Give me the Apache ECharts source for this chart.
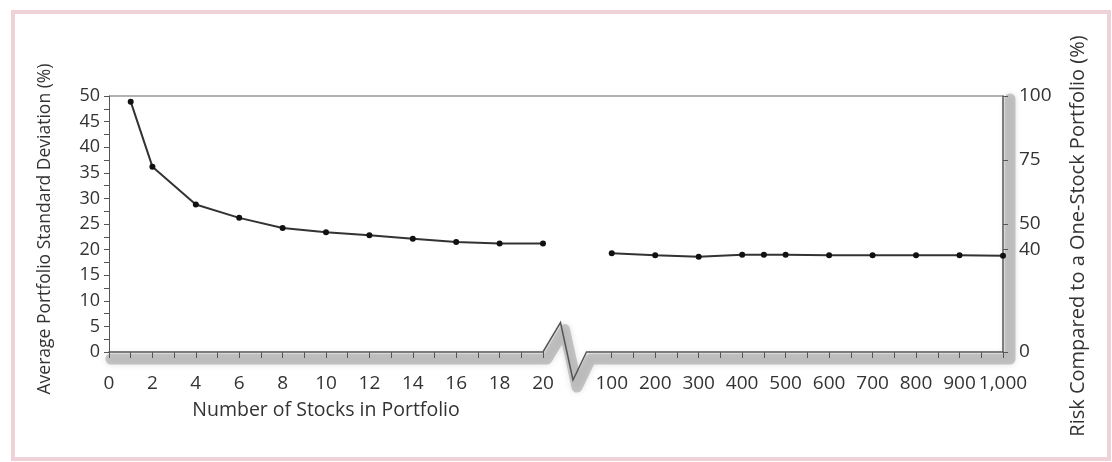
<!DOCTYPE html>
<html>
<head>
<meta charset="utf-8">
<script src="https://cdn.jsdelivr.net/npm/echarts@6/dist/echarts.min.js"></script>
<style>
html,body{margin:0;padding:0;background:#fff;}
#chart{width:1112px;height:462px;}
</style>
</head>
<body>
<div id="chart"></div>
<script>
// ---- data ----
const leftX = [1, 2, 4, 6, 8, 10, 12, 14, 16, 18, 20];
const leftY = [48.9, 36.2, 28.8, 26.2, 24.2, 23.4, 22.8, 22.1, 21.5, 21.2, 21.2];
const rightX = [100, 200, 300, 400, 450, 500, 600, 700, 800, 900, 1000];
const rightY = [19.3, 18.9, 18.6, 19.0, 19.0, 19.0, 18.9, 18.9, 18.9, 18.9, 18.8];
const rightTicks = [0, 40, 50, 75, 100];
const leftTitle = 'Average Portfolio Standard Deviation (%)';
const rightTitle = 'Risk Compared to a One-Stock Portfolio (%)';
const xTitle = 'Number of Stocks in Portfolio';

const FONT = '"Open Sans"';
const TXT = '#333';
const AX = '#555';

const chart = echarts.init(document.getElementById('chart'), null, {renderer: 'canvas'});

const lineStyle = {color: '#333', width: 2};
const option = {
  backgroundColor: '#fff',
  animation: false,
  textStyle: {fontFamily: FONT},
  grid: [
    {left: 109, top: 96, width: 434, height: 256},
    {left: 590, top: 96, width: 413, height: 256}
  ],
  xAxis: [
    {
      gridIndex: 0, type: 'value', min: 0, max: 20, interval: 1,
      axisLine: {show: true, lineStyle: {color: AX, width: 1.5}},
      axisTick: {show: true, inside: false, length: 6, lineStyle: {color: AX, width: 1}},
      axisLabel: {
        margin: 22, color: TXT, fontSize: 19, fontFamily: FONT,
        formatter: v => (v % 2 === 0 ? String(v) : '')
      },
      splitLine: {show: false}
    },
    {
      gridIndex: 1, type: 'value', min: 50, max: 1000, interval: 50,
      axisLine: {show: true, lineStyle: {color: AX, width: 1.5}},
      axisTick: {show: true, inside: false, length: 6, lineStyle: {color: AX, width: 1}},
      axisLabel: {
        margin: 22, color: TXT, fontSize: 19, fontFamily: FONT,
        showMinLabel: false,
        formatter: v => (v % 100 === 0 ? (v === 1000 ? '1,000' : String(v)) : '')
      },
      splitLine: {show: false}
    }
  ],
  yAxis: [
    {
      gridIndex: 0, type: 'value', min: 0, max: 50, interval: 2.5, position: 'left',
      axisLine: {show: true, lineStyle: {color: AX, width: 1}},
      axisTick: {show: true, length: 5, lineStyle: {color: AX, width: 1}},
      axisLabel: {
        margin: 9, color: TXT, fontSize: 18, fontFamily: FONT,
        formatter: v => (Math.abs(v % 5) < 1e-9 ? String(v) : '')
      },
      splitLine: {show: false}
    },
    {
      gridIndex: 1, type: 'value', min: 0, max: 50, show: false,
      splitLine: {show: false}
    },
    {
      gridIndex: 1, type: 'value', min: 0, max: 100, position: 'right',
      axisLine: {show: true, lineStyle: {color: AX, width: 1.5}},
      axisTick: {show: true, length: 5, customValues: rightTicks, lineStyle: {color: AX, width: 1}},
      axisLabel: {margin: 16, color: TXT, fontSize: 19, fontFamily: FONT, customValues: rightTicks},
      splitLine: {show: false}
    }
  ],
  series: [
    {
      type: 'line', xAxisIndex: 0, yAxisIndex: 0,
      data: leftX.map((x, i) => [x, leftY[i]]),
      symbol: 'circle', symbolSize: 6,
      itemStyle: {color: '#111'}, lineStyle: lineStyle, z: 5
    },
    {
      type: 'line', xAxisIndex: 1, yAxisIndex: 1,
      data: rightX.map((x, i) => [x, rightY[i]]),
      symbol: 'circle', symbolSize: 6,
      itemStyle: {color: '#111'}, lineStyle: lineStyle, z: 5
    }
  ]
};
chart.setOption(option);

// ---- decorations positioned from the axes ----
const p00 = chart.convertToPixel({xAxisIndex: 0, yAxisIndex: 0}, [0, 0]);
const p20 = chart.convertToPixel({xAxisIndex: 0, yAxisIndex: 0}, [20, 50]);
const q50 = chart.convertToPixel({xAxisIndex: 1, yAxisIndex: 1}, [50, 0]);
const qEnd = chart.convertToPixel({xAxisIndex: 1, yAxisIndex: 1}, [1000, 50]);
const xL = p00[0], yB = p00[1], x20 = p20[0], yT = p20[1], xR = qEnd[0], x50 = q50[0];

const zig = [
  [x20, yB], [x20 + 17.5, yB - 29.5], [x20 + 30, yB + 28], [x20 + 43.5, yB], [x50, yB]
];
const off = 7;
const shadowPts = [[xL + 2, yB + off]]
  .concat(zig.map(p => [p[0] + 4, p[1] + off]))
  .concat([[xR + off, yB + off], [xR + off, yT + 3]]);

chart.setOption({
  graphic: [
    {
      type: 'rect', silent: true, z: -20,
      shape: {x: 13, y: 12, width: 1096, height: 447},
      style: {fill: 'none', stroke: '#efd2d8', lineWidth: 4}
    },
    {
      type: 'polyline', silent: true, z: -10,
      shape: {points: shadowPts},
      style: {
        fill: 'none', stroke: 'rgba(150,150,150,0.5)', lineWidth: 11,
        lineJoin: 'round', lineCap: 'round',
        shadowBlur: 6, shadowColor: 'rgba(0,0,0,0.25)'
      }
    },
    {
      type: 'polyline', silent: true, z: 10,
      shape: {points: zig},
      style: {fill: 'none', stroke: AX, lineWidth: 1.5}
    },
    {
      type: 'line', silent: true, z: 10,
      shape: {x1: xL, y1: yT, x2: xR, y2: yT},
      style: {stroke: '#666', lineWidth: 1}
    },
    {
      type: 'text', silent: true, z: 10,
      x: 45, y: 229, rotation: Math.PI / 2,
      style: {text: leftTitle, fill: TXT, font: '17.5px ' + FONT, align: 'center', verticalAlign: 'middle'}
    },
    {
      type: 'text', silent: true, z: 10,
      x: 1078, y: 236, rotation: Math.PI / 2,
      style: {text: rightTitle, fill: TXT, font: '20px ' + FONT, align: 'center', verticalAlign: 'middle'}
    },
    {
      type: 'text', silent: true, z: 10,
      x: 326, y: 410,
      style: {text: xTitle, fill: TXT, font: '19.5px ' + FONT, align: 'center', verticalAlign: 'middle'}
    }
  ]
});
</script>
</body>
</html>
